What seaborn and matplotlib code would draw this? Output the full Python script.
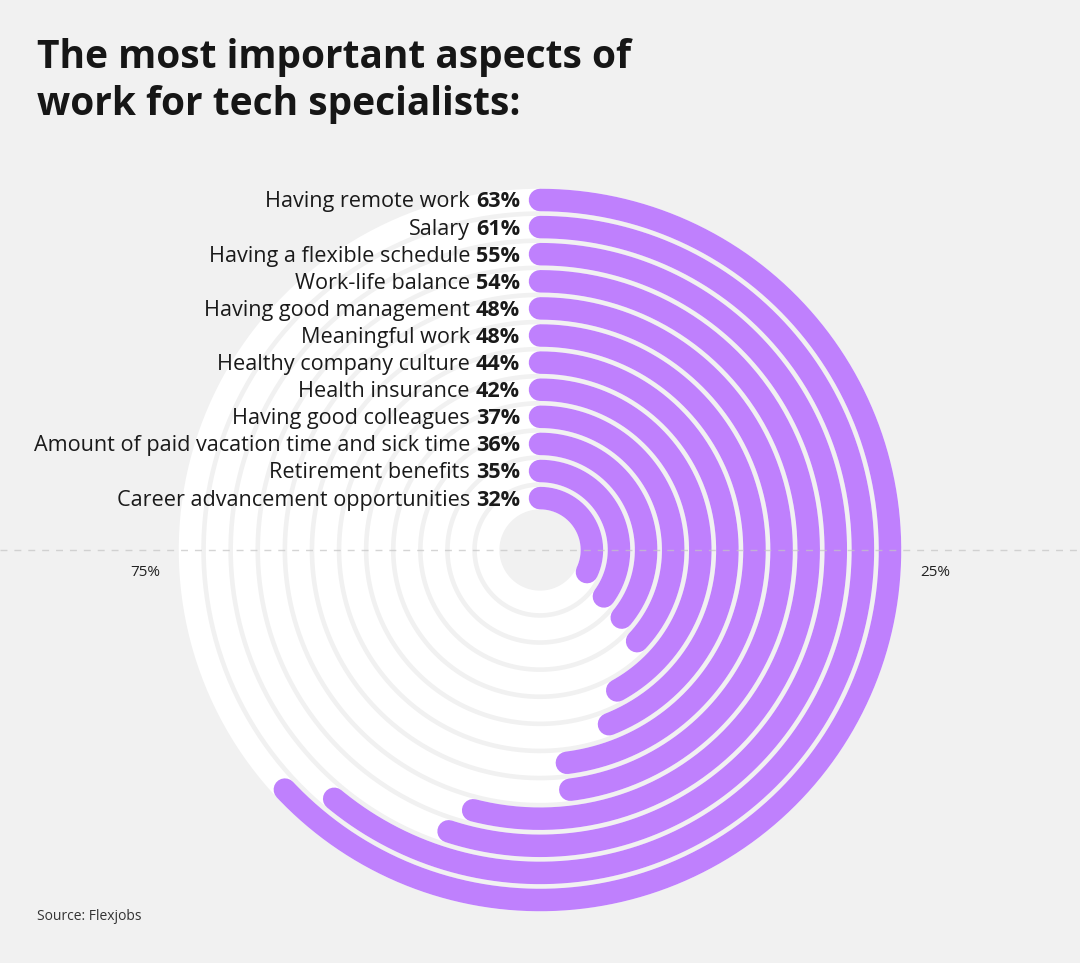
import numpy as np
import matplotlib
matplotlib.use("Agg")
import matplotlib.pyplot as plt
from matplotlib.transforms import offset_copy
import seaborn as sns

# Données (de l'anneau extérieur vers l'intérieur)
aspects = [
    "Having remote work", "Salary", "Having a flexible schedule", "Work-life balance",
    "Having good management", "Meaningful work", "Healthy company culture",
    "Health insurance", "Having good colleagues",
    "Amount of paid vacation time and sick time", "Retirement benefits",
    "Career advancement opportunities",
]
pourcentages = [63, 61, 55, 54, 48, 48, 44, 42, 37, 36, 35, 32]
ticks_labels = ["25%", "75%"]

BG = "#f1f1f1"
PURPLE = "#bf80fd"

sns.set_theme(style="white")
plt.rcParams["font.family"] = ["Open Sans", "DejaVu Sans"]

W, H, DPI = 1080, 963, 100
fig = plt.figure(figsize=(W / DPI, H / DPI), dpi=DPI, facecolor=BG)

# axe polaire centré à (540, 550) px, 1 unité de rayon = 1 px
cx, cy, R = 540, H - 550, 400
ax = fig.add_axes([(cx - R) / W, (cy - R) / H, 2 * R / W, 2 * R / H], projection="polar")
ax.set_theta_zero_location("N")
ax.set_theta_direction(-1)
ax.set_ylim(0, R)
ax.set_axis_off()
ax.patch.set_alpha(0)

lw = 22.5 * 72 / DPI
n = len(pourcentages)
rayons = [350 - 27.1 * i for i in range(n)]

full = np.linspace(0, 2 * np.pi, 400)
for r in rayons:
    ax.plot(full, np.full_like(full, r), color="white", lw=lw, solid_capstyle="butt", zorder=1)

for r, v in zip(rayons, pourcentages):
    theta = np.linspace(0, 2 * np.pi * v / 100, 300)
    ax.plot(theta, np.full_like(theta, r), color=PURPLE, lw=lw, solid_capstyle="round", zorder=2)

# ligne pointillée horizontale
fig.add_artist(plt.Line2D([0, 1], [cy / H, cy / H], transform=fig.transFigure,
                          color="#c4c4c4", lw=1, ls=(0, (5, 5)), alpha=0.7, zorder=5))

# étiquettes : valeur en gras + libellé
renderer = fig.canvas.get_renderer()
for r, lab, v in zip(rayons, aspects, pourcentages):
    tr = offset_copy(ax.transData, fig=fig, x=-20, y=-2, units="dots")
    t = ax.text(0, r, f"{v}%", transform=tr, ha="right", va="center",
                fontsize=15.6, fontweight="bold", color="#1a1a1a", zorder=6)
    w = t.get_window_extent(renderer=renderer).width
    tr2 = offset_copy(ax.transData, fig=fig, x=-20 - w - 6, y=-2, units="dots")
    ax.text(0, r, lab, transform=tr2, ha="right", va="center",
            fontsize=15.6, color="#1a1a1a", zorder=6)

fig.text(935 / W, 1 - 573 / H, ticks_labels[0], ha="center", va="center", fontsize=11, color="#222222")
fig.text(145 / W, 1 - 573 / H, ticks_labels[1], ha="center", va="center", fontsize=11, color="#222222")

fig.text(37 / W, 1 - 81 / H, "The most important aspects of\nwork for tech specialists:",
         ha="left", va="center", fontsize=28, fontweight="bold", color="#161616", linespacing=1.24)
fig.text(37 / W, 1 - 916 / H, "Source: Flexjobs", ha="left", va="center", fontsize=10, color="#333333")

fig.savefig("out.png", dpi=DPI, facecolor=BG)
